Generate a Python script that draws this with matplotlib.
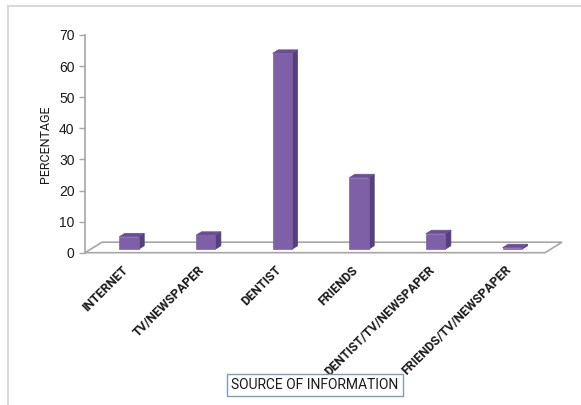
import matplotlib
matplotlib.use("Agg")
import matplotlib.pyplot as plt
from matplotlib.patches import Polygon
from matplotlib.lines import Line2D

# data
sources = ["INTERNET", "TV/NEWSPAPER", "DENTIST", "FRIENDS",
           "DENTIST/TV/NEWSPAPER", "FRIENDS/TV/NEWSPAPER"]
percentage = [4.0, 4.5, 63.0, 23.0, 5.0, 0.5]
yticks = [0, 10, 20, 30, 40, 50, 60, 70]

front_col = "#7E60A8"
side_col = "#56407C"
top_col = "#6B4F96"
floor_col = "#A6A6A6"

W, H = 581, 405
fig = plt.figure(figsize=(W / 100, H / 100), dpi=100)
ax = fig.add_axes([85 / W, (H - 252.7) / H, (545 - 85) / W, (252.7 - 35) / H])
ax.set_xlim(-0.5, len(sources) - 0.5)
ax.set_ylim(0, 70)

# depth of the pseudo 3d floor, in data units
ddx = 17 / 76.5
ddy = 10.5 / 3.11
f0, f1 = 0.33, 0.66     # front / back of the bars as a share of the depth
half = 0.126

floor = Polygon([(-0.5, 0), (len(sources) - 0.5, 0),
                 (len(sources) - 0.5 + ddx, ddy), (-0.5 + ddx, ddy)],
                closed=True, facecolor="white", edgecolor=floor_col,
                lw=1.2, clip_on=False, zorder=1)
ax.add_patch(floor)

for i, v in enumerate(percentage):
    x0 = i - half + f0 * ddx
    x1 = i + half + f0 * ddx
    y0 = f0 * ddy
    y1 = y0 + v
    bx = (f1 - f0) * ddx
    by = (f1 - f0) * ddy
    side = Polygon([(x1, y0), (x1 + bx, y0 + by), (x1 + bx, y1 + by), (x1, y1)],
                   closed=True, facecolor=side_col, edgecolor=side_col, lw=0.5,
                   clip_on=False, zorder=3)
    top = Polygon([(x0, y1), (x1, y1), (x1 + bx, y1 + by), (x0 + bx, y1 + by)],
                  closed=True, facecolor=top_col, edgecolor=top_col, lw=0.5,
                  clip_on=False, zorder=3)
    front = Polygon([(x0, y0), (x1, y0), (x1, y1), (x0, y1)],
                    closed=True, facecolor=front_col, edgecolor=front_col, lw=0.5,
                    clip_on=False, zorder=4)
    ax.add_patch(side)
    ax.add_patch(top)
    ax.add_patch(front)

# category labels, rotated like the original
for i, lab in enumerate(sources):
    ax.text(i + 0.03, -4.9, lab, rotation=45, rotation_mode="anchor",
            ha="right", va="center", fontsize=9, fontweight="bold",
            family=["Roboto", "DejaVu Sans"], color="#1a1a1a", clip_on=False)

for s in ["top", "right", "bottom"]:
    ax.spines[s].set_visible(False)
ax.spines["left"].set_color(floor_col)
ax.spines["left"].set_linewidth(1.2)
ax.set_xticks([])
ax.set_yticks(yticks)
ax.tick_params(axis="y", length=4, width=1, color=floor_col, pad=3.5,
               labelsize=10, labelcolor="#1a1a1a")
for t in ax.get_yticklabels():
    t.set_family(["Liberation Sans", "DejaVu Sans"])

fig.text(45 / W, 1 - 144 / H, "PERCENTAGE", rotation=90, ha="center", va="center",
         fontsize=9, family=["Roboto", "DejaVu Sans"], color="#1a1a1a")
fig.text(315 / W, 1 - 385 / H, "SOURCE OF INFORMATION", ha="center", va="center",
         fontsize=10, family=["Roboto", "DejaVu Sans"], color="#1a1a1a",
         bbox=dict(boxstyle="square,pad=0.3", facecolor="white", edgecolor="#7F9CC0", lw=1))

# outer chart frame (only top and left show in the crop)
fig.add_artist(Line2D([8 / W, 1], [1 - 6 / H, 1 - 6 / H], color="#D9D9D9", lw=1.5))
fig.add_artist(Line2D([8 / W, 8 / W], [0, 1 - 6 / H], color="#D9D9D9", lw=1.5))

fig.savefig("out.png", dpi=100)
